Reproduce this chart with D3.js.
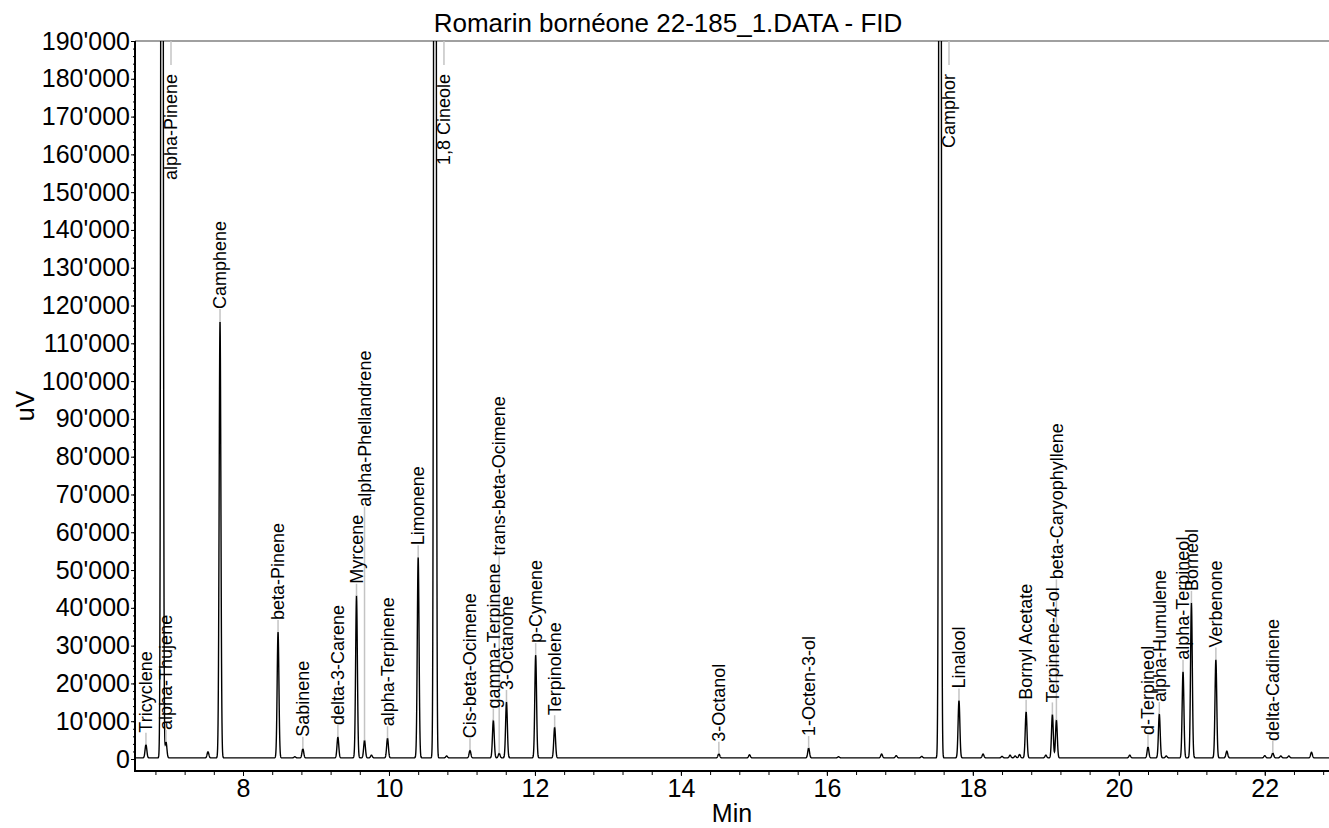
<!DOCTYPE html>
<html>
<head>
<meta charset="utf-8">
<script src="https://cdn.jsdelivr.net/npm/d3@7"></script>
<style>
  body { margin: 0; background: #fff; }
  svg { display: block; font-family: Arial, "Liberation Sans", sans-serif; }
  .trace { fill: none; stroke: #000; stroke-width: 1.4px; }
  .leader { stroke: #c4c4c4; stroke-width: 1.5px; }
  .peak-label { font-size: 18px; fill: #000; }
  .axis text { font-size: 25px; fill: #000; }
  .axis line { stroke: #000; }
  .axis-line { stroke: #000; stroke-width: 2px; }
  .frame-top { stroke: #808080; stroke-width: 1.5px; }
  .title { font-size: 26px; }
  .axis-title { font-size: 25px; }
</style>
</head>
<body>
<svg id="chart" width="1329" height="828"></svg>
<script>
// named peaks (retention time in min, apex height in uV)
const peakNames = ['Tricyclene', 'alpha-Pinene', 'alpha-Thujene', 'Camphene', 'beta-Pinene',
  'Sabinene', 'delta-3-Carene', 'Myrcene', 'alpha-Phellandrene', 'alpha-Terpinene',
  'Limonene', '1,8 Cineole', 'Cis-beta-Ocimene', 'gamma-Terpinene', 'trans-beta-Ocimene',
  '3-Octanone', 'p-Cymene', 'Terpinolene', '3-Octanol', '1-Octen-3-ol', 'Camphor',
  'Linalool', 'Bornyl Acetate', 'Terpinene-4-ol', 'beta-Caryophyllene', 'd-Terpineol',
  'alpha-Humulene', 'alpha-Terpineol', 'Borneol', 'Verbenone', 'delta-Cadinene']
const peakTimes = [6.67, 6.89, 6.945, 7.685, 8.48,
  8.82, 9.30, 9.555, 9.665, 9.98,
  10.40, 10.63, 11.11, 11.43, 11.51,
  11.61, 12.01, 12.27, 14.52, 15.75, 17.55,
  17.81, 18.73, 19.09, 19.145, 20.40,
  20.555, 20.88, 20.995, 21.33, 22.11]
const peakHeights = [3500, 600000, 4200, 115600, 33300,
  2400, 5500, 42900, 4600, 5200,
  53100, 700000, 2000, 9900, 1200,
  14800, 27200, 8100, 1100, 2600, 650000,
  15200, 12200, 11500, 10000, 2900,
  11600, 22800, 41000, 26000, 1300]

// unlabelled small peaks
const minorTimes = [7.52, 8.71, 9.76, 10.79, 14.94, 16.16, 16.75, 16.95, 17.30, 18.14,
  18.40, 18.51, 18.58, 18.64, 19.00, 20.15, 20.65, 21.48, 22.00, 22.22, 22.33, 22.64]
const minorHeights = [1600, 300, 700, 500, 800, 300, 1000, 600, 400, 1000,
  400, 700, 500, 900, 700, 700, 500, 1800, 600, 500, 500, 1500]

const baselineLevel = 300
const yTickValues = d3.range(0, 190001, 10000)
const xTickValues = d3.range(8, 23, 2)

//consts
const
  plotLeft = 135,
  plotRight = 1329,
  plotTop = 41,
  plotBottom = 771,
  sigma = 0.012,
  step = 0.002,
  leaderLen = 12,
  stackGap = 8,
  clashDist = 8.2,
  offsetHigh = 9

const svg = d3.select('#chart')

const x = d3.scaleLinear().domain([6.52, 22.88]).range([plotLeft, plotRight])
const y = d3.scaleLinear().domain([-3175, 190000]).range([plotBottom, plotTop])

//build the trace as a sum of gaussian peaks
const allPeaks = peakTimes.map((t, i) => ({t: t, h: peakHeights[i]}))
  .concat(minorTimes.map((t, i) => ({t: t, h: minorHeights[i]})))
const signalAt = t => {
  let v = baselineLevel
  allPeaks.forEach(p => {
    const z = (t - p.t) / sigma
    if (Math.abs(z) < 9) v += p.h * Math.exp(-0.5 * z * z)
  })
  return v
}
const times = d3.range(x.domain()[0], x.domain()[1] + step, step)
const signal = times.map(t => [t, signalAt(t)])

//clip
svg.append('clipPath').attr('id', 'plot-clip')
  .append('rect')
  .attr('x', plotLeft).attr('y', plotTop)
  .attr('width', plotRight - plotLeft).attr('height', plotBottom - plotTop)

//axes
const fmt = v => d3.format(',')(v).replace(/,/g, "'")

svg.append('g')
  .attr('class', 'axis')
  .attr('transform', 'translate(' + plotLeft + ',0)')
  .call(d3.axisLeft(y).tickValues(d3.range(0, 190001, 2000)).tickSize(2).tickFormat(''))
  .call(g => g.select('.domain').remove())

svg.append('g')
  .attr('class', 'axis')
  .attr('transform', 'translate(' + plotLeft + ',0)')
  .call(d3.axisLeft(y).tickValues(yTickValues).tickSize(4).tickPadding(1).tickFormat(fmt))
  .call(g => g.select('.domain').remove())

svg.append('g')
  .attr('class', 'axis')
  .attr('transform', 'translate(0,' + plotBottom + ')')
  .call(d3.axisBottom(x).tickValues(d3.range(6.8, 22.9, 0.4)).tickSize(4).tickFormat(''))
  .call(g => g.select('.domain').remove())

svg.append('g')
  .attr('class', 'axis')
  .attr('transform', 'translate(0,' + plotBottom + ')')
  .call(d3.axisBottom(x).tickValues(xTickValues).tickSize(5).tickPadding(3).tickFormat(d3.format('d')))
  .call(g => g.select('.domain').remove())

svg.append('line').attr('class', 'frame-top')
  .attr('x1', plotLeft).attr('x2', plotRight).attr('y1', plotTop).attr('y2', plotTop)
svg.append('line').attr('class', 'axis-line')
  .attr('x1', plotLeft).attr('x2', plotLeft).attr('y1', plotTop).attr('y2', plotBottom + 1)
svg.append('line').attr('class', 'axis-line')
  .attr('x1', plotLeft - 1).attr('x2', plotRight).attr('y1', plotBottom).attr('y2', plotBottom)

//trace
svg.append('path')
  .datum(signal)
  .attr('class', 'trace')
  .attr('clip-path', 'url(#plot-clip)')
  .attr('d', d3.line().x(d => x(d[0])).y(d => y(d[1])))

//labels: tallest placed first, smaller ones stacked above any clash
const labelData = peakNames.map((name, i) => ({name: name, t: peakTimes[i], v: signalAt(peakTimes[i])}))

const labelG = svg.append('g')
const labels = labelG.selectAll('text')
  .data(labelData)
  .enter()
  .append('text')
  .attr('class', 'peak-label')
  .text(d => d.name)
labels.each(function (d) { d.len = this.getComputedTextLength() })

const placed = []
labelData.slice().sort((a, b) => b.v - a.v).forEach(d => {
  const px = x(d.t)
  if (d.v > y.domain()[1]) {
    d.lx = px + offsetHigh
    d.y0 = plotTop
    d.y1 = plotTop + 24
    d.anchor = 'end'
    d.ty = plotTop + 33
    d.boxTop = d.ty
    d.boxBottom = d.ty + d.len
  } else {
    d.lx = px
    d.y0 = y(d.v)
    let b = d.y0 - leaderLen
    let moved = true
    while (moved) {
      moved = false
      placed.forEach(p => {
        if (Math.abs(p.lx - px) < clashDist && b > p.boxTop && b - d.len < p.boxBottom) {
          b = p.boxTop - stackGap
          moved = true
        }
      })
    }
    d.y1 = b
    d.anchor = 'start'
    d.ty = b
    d.boxTop = b - d.len
    d.boxBottom = b
  }
  placed.push(d)
})

labelG.selectAll('line')
  .data(labelData)
  .enter()
  .insert('line', 'text')
  .attr('class', 'leader')
  .attr('x1', d => d.lx).attr('x2', d => d.lx)
  .attr('y1', d => d.y0).attr('y2', d => d.y1)

labels
  .attr('text-anchor', d => d.anchor)
  .attr('dy', '0.35em')
  .attr('transform', d => 'translate(' + [d.lx, d.ty] + ') rotate(-90)')

//titles
svg.append('text').attr('class', 'title')
  .attr('x', 668).attr('y', 32)
  .attr('text-anchor', 'middle')
  .text('Romarin bornéone 22-185_1.DATA - FID')
svg.append('text').attr('class', 'axis-title')
  .attr('x', (plotLeft + plotRight) / 2).attr('y', 822)
  .attr('text-anchor', 'middle')
  .text('Min')
svg.append('text').attr('class', 'axis-title')
  .attr('transform', 'translate(34,' + (plotTop + plotBottom) / 2 + ') rotate(-90)')
  .attr('text-anchor', 'middle')
  .text('uV')
</script>
</body>
</html>
